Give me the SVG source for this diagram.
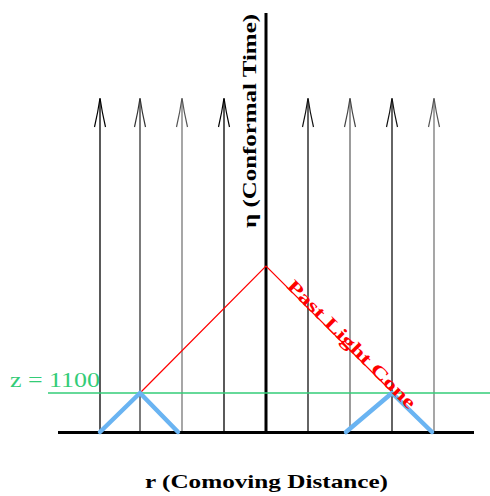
<svg xmlns="http://www.w3.org/2000/svg" width="490" height="496" viewBox="0 0 490 496">
<style>
.wl{stroke-width:1.3;fill:none}
.ah{fill:none;stroke-width:1.2}
.lbl{font-family:"Liberation Serif",serif;font-weight:bold}
</style>
<defs>
<path id="head" d="M-5.5,127 Q-2,112 0,98 Q2,112 5.5,127"/>
</defs>
<rect width="490" height="496" fill="#fff"/>
<g id="connectors">
<g id="worldlines">
<line class="wl" x1="100" y1="432" x2="100" y2="99" stroke="#000"/>
<use href="#head" x="100" class="ah" stroke="#000"/>
<line class="wl" x1="140" y1="432" x2="140" y2="99" stroke="#333"/>
<use href="#head" x="140" class="ah" stroke="#333"/>
<line class="wl" x1="182" y1="432" x2="182" y2="99" stroke="#777"/>
<use href="#head" x="182" class="ah" stroke="#555"/>
<line class="wl" x1="224" y1="432" x2="224" y2="99" stroke="#000"/>
<use href="#head" x="224" class="ah" stroke="#000"/>
<line class="wl" x1="308" y1="432" x2="308" y2="99" stroke="#111"/>
<use href="#head" x="308" class="ah" stroke="#111"/>
<line class="wl" x1="350" y1="432" x2="350" y2="99" stroke="#666"/>
<use href="#head" x="350" class="ah" stroke="#444"/>
<line class="wl" x1="392" y1="432" x2="392" y2="99" stroke="#111"/>
<use href="#head" x="392" class="ah" stroke="#111"/>
<line class="wl" x1="434" y1="432" x2="434" y2="99" stroke="#777"/>
<use href="#head" x="434" class="ah" stroke="#555"/>
</g>
<line id="time-axis" x1="266" y1="13" x2="266" y2="433" stroke="#000" stroke-width="3"/>
<line id="r-axis" x1="58" y1="432.5" x2="474" y2="432.5" stroke="#000" stroke-width="3"/>
<line id="z-line" x1="48" y1="393" x2="490" y2="393" stroke="#33cc77" stroke-width="1.3"/>
<polyline id="light-cone" points="140,393 266,266 400,400" fill="none" stroke="#ff0000" stroke-width="1.2"/>
<g id="cones" stroke="#6ab4f2" stroke-width="4.5" fill="none" stroke-linecap="round" stroke-linejoin="round">
<polyline points="100,432 140,393 178,432"/>
<polyline points="346,432 392,393 432,432"/>
</g>
</g>
<g id="labels">
<text class="lbl" font-size="18" transform="translate(256,228) rotate(-90)" textLength="214" lengthAdjust="spacingAndGlyphs">η (Conformal Time)</text>
<text class="lbl" font-size="19" x="145" y="488" textLength="243" lengthAdjust="spacingAndGlyphs">r (Comoving Distance)</text>
<text class="lbl" font-size="18" fill="#ff0000" transform="translate(286,287) rotate(45)" textLength="174" lengthAdjust="spacingAndGlyphs">Past Light Cone</text>
<text font-family="Liberation Serif,serif" font-size="22" fill="#33cc77" x="10" y="387" textLength="90" lengthAdjust="spacingAndGlyphs">z = 1100</text>
</g>
</svg>
